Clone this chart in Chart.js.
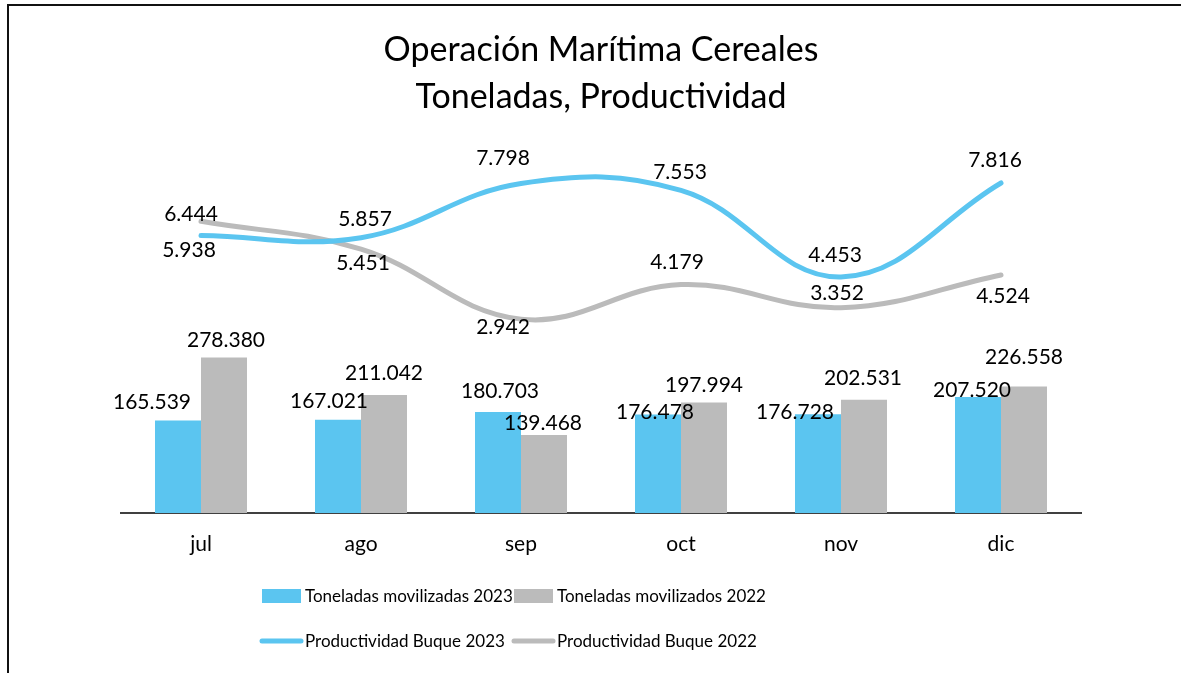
<!DOCTYPE html>
<html>
<head>
<meta charset="utf-8">
<script src="https://cdn.jsdelivr.net/npm/chart.js@4.4.1/dist/chart.umd.min.js"></script>
<style>
  html, body { margin: 0; padding: 0; background: #fff; overflow: hidden; }
  #wrap { position: relative; width: 1181px; height: 673px; }
  #frame { position: absolute; left: 7px; top: 4px; right: -10px; bottom: -10px;
           border-left: 2.5px solid #111; border-top: 2.5px solid #111; pointer-events: none; }
  canvas { position: absolute; left: 0; top: 0; }
</style>
</head>
<body>
<div id="wrap">
  <canvas id="c" width="1181" height="673"></canvas>
  <div id="frame"></div>
</div>
<script>
// ---- data ----
const categories = ['jul', 'ago', 'sep', 'oct', 'nov', 'dic'];
const toneladas2023 = [165539, 167021, 180703, 176478, 176728, 207520];
const toneladas2022 = [278380, 211042, 139468, 197994, 202531, 226558];
const productividad2023 = [5938, 5857, 7798, 7553, 4453, 7816];
const productividad2022 = [6444, 5451, 2942, 4179, 3352, 4524];
const seriesNames = ['Toneladas movilizadas 2023', 'Toneladas movilizados 2022',
                     'Productividad Buque 2023', 'Productividad Buque 2022'];
const titleLines = ['Operación Marítima Cereales', 'Toneladas, Productividad'];

const BLUE = '#5BC5F0';
const GRAY = '#BBBBBB';
const FONT = 'Lato, "Open Sans", sans-serif';

function fmt(v) {
  return String(Math.round(v)).replace(/\B(?=(\d{3})+(?!\d))/g, '.');
}

// label offsets (dx, dy) from each mark anchor, per dataset
const labelOffsets = [
  [[-26,-18],[-9,-18],[2,-21],[-3,-2],[-23,-2],[-6,-7]],
  [[2,-17],[0,-22],[-1,-12],[0,-17],[-1,-22],[0,-29]],
  [[-12,15],[4,-18],[-18,-25],[-1,-18],[-6,-22],[-6,-23]],
  [[-10,-7],[2,14],[-18,8],[-4,-22],[-4,-14],[2,21]]
];

const labelPlugin = {
  id: 'valueLabels',
  afterDatasetsDraw(chart) {
    const ctx = chart.ctx;
    ctx.save();
    ctx.font = '21px ' + FONT;
    ctx.fillStyle = '#000';
    ctx.textAlign = 'center';
    ctx.textBaseline = 'middle';
    chart.data.datasets.forEach((ds, di) => {
      const meta = chart.getDatasetMeta(di);
      meta.data.forEach((el, i) => {
        const off = labelOffsets[di][i];
        ctx.fillText(fmt(ds.data[i]), el.x + off[0], el.y + off[1]);
      });
    });
    ctx.restore();
  }
};

// legend layout: [markerX, textX, rowY]
const legendLayout = [[262, 305, 596], [514, 557, 596], [262, 305, 641], [514, 557, 641]];

const legendPlugin = {
  id: 'customLegend',
  afterDraw(chart) {
    const ctx = chart.ctx;
    ctx.save();
    ctx.font = '17px ' + FONT;
    ctx.textBaseline = 'middle';
    ctx.textAlign = 'left';
    chart.data.datasets.forEach((ds, di) => {
      const [mx, tx, y] = legendLayout[di];
      if (ds.type === 'line') {
        ctx.strokeStyle = ds.borderColor;
        ctx.lineWidth = 5;
        ctx.lineCap = 'round';
        ctx.beginPath();
        ctx.moveTo(mx, y);
        ctx.lineTo(mx + 39, y);
        ctx.stroke();
      } else {
        ctx.fillStyle = ds.backgroundColor;
        ctx.fillRect(mx, y - 7, 39, 14);
      }
      ctx.fillStyle = '#000';
      ctx.fillText(ds.label, tx, y + 1);
    });
    ctx.restore();
  }
};

new Chart(document.getElementById('c'), {
  data: {
    labels: categories,
    datasets: [
      { type: 'bar', label: seriesNames[0], data: toneladas2023, backgroundColor: BLUE,
        yAxisID: 'y', barPercentage: 1, categoryPercentage: 0.575, order: 3 },
      { type: 'bar', label: seriesNames[1], data: toneladas2022, backgroundColor: GRAY,
        yAxisID: 'y', barPercentage: 1, categoryPercentage: 0.575, order: 4 },
      { type: 'line', label: seriesNames[2], data: productividad2023, borderColor: BLUE,
        backgroundColor: BLUE, borderWidth: 5, pointRadius: 0, tension: 0.4,
        borderCapStyle: 'round', yAxisID: 'y1', order: 1 },
      { type: 'line', label: seriesNames[3], data: productividad2022, borderColor: GRAY,
        backgroundColor: GRAY, borderWidth: 5, pointRadius: 0, tension: 0.4,
        borderCapStyle: 'round', yAxisID: 'y1', order: 2 }
    ]
  },
  options: {
    responsive: false,
    animation: false,
    layout: { padding: { left: 121, right: 100, top: 0, bottom: 96.8 } },
    plugins: {
      legend: { display: false },
      tooltip: { enabled: false },
      title: {
        display: true,
        text: titleLines,
        color: '#000',
        font: { family: FONT, size: 34, weight: 'normal', lineHeight: 47 / 34 },
        padding: { top: 26.5, bottom: 1.5 }
      }
    },
    scales: {
      x: {
        grid: { display: false, drawTicks: false },
        border: { display: true, color: '#404040', width: 2 },
        ticks: { color: '#000', font: { family: FONT, size: 21 }, padding: 19 }
      },
      y: { display: false, min: 0, max: 700000 },
      y1: { display: false, min: -4000, max: 10000, grid: { drawOnChartArea: false } }
    }
  },
  plugins: [labelPlugin, legendPlugin]
});
</script>
</body>
</html>
